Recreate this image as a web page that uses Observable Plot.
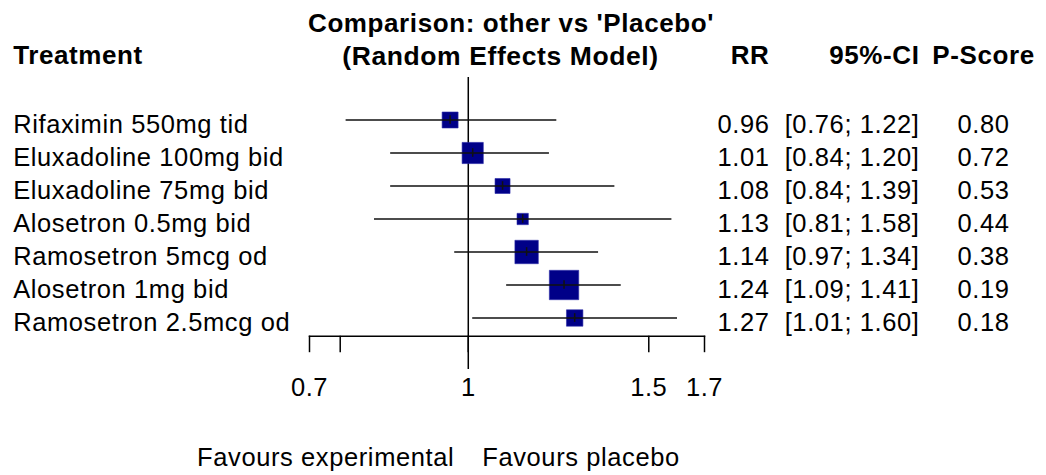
<!DOCTYPE html>
<html>
<head>
<meta charset="utf-8">
<script src="https://cdn.jsdelivr.net/npm/d3@7"></script>
<script src="https://cdn.jsdelivr.net/npm/@observablehq/plot@0.6"></script>
<style>
  html, body { margin: 0; padding: 0; background: #fff; }
</style>
</head>
<body>
<div id="chart"></div>
<script>
// ---- data ----
const treatments = [
  "Rifaximin 550mg tid",
  "Eluxadoline 100mg bid",
  "Eluxadoline 75mg bid",
  "Alosetron 0.5mg bid",
  "Ramosetron 5mcg od",
  "Alosetron 1mg bid",
  "Ramosetron 2.5mcg od"
];
const rr     = [0.96, 1.01, 1.08, 1.13, 1.14, 1.24, 1.27];
const lower  = [0.76, 0.84, 0.84, 0.81, 0.97, 1.09, 1.01];
const upper  = [1.22, 1.20, 1.39, 1.58, 1.34, 1.41, 1.60];
const pScore = [0.80, 0.72, 0.53, 0.44, 0.38, 0.19, 0.18];

const xTicks      = [0.7, 0.75, 1, 1.5, 1.7];
const xTickLabels = ["0.7", "", "1", "1.5", "1.7"];

const titleLines = ["Comparison: other vs 'Placebo'", "(Random Effects Model)"];
const headerTreatment = "Treatment";
const headerRR = "RR";
const headerCI = "95%-CI";
const headerP = "P-Score";
const favourLabels = ["Favours experimental", "Favours placebo"];

// ---- table built from the arrays ----
const rows = treatments.map((name, i) => ({
  name,
  rr: rr[i],
  lo: lower[i],
  hi: upper[i],
  p: pScore[i],
  // precision (1/SE) derived from the CI, used for box size
  prec: 3.92 / Math.log(upper[i] / lower[i]),
  rrText: rr[i].toFixed(2),
  ciText: `[${lower[i].toFixed(2)}; ${upper[i].toFixed(2)}]`,
  pText: pScore[i].toFixed(2)
}));

// ---- layout ----
const W = 1046, H = 475;
const mLeft = 309, mRight = W - 704, mTop = 77, mBottom = H - 335.7;
const rowTop = 101.6, rowBottom = 335.0;
const col = {name: 12.7, rr: 769, ci: 919, p: 983};
const dxL = (X) => X - mLeft;          // offset from left edge of the frame
const headBase = 63.5 - mTop;          // header baseline relative to frame top
const rowBase = 12.5;                  // baseline offset from row centre
const boxK = 1.93 / Math.sqrt(Math.PI);

const chart = Plot.plot({
  width: W,
  height: H,
  marginLeft: mLeft,
  marginRight: mRight,
  marginTop: mTop,
  marginBottom: mBottom,
  style: {
    fontFamily: "'Liberation Sans', Arial, Helvetica, sans-serif",
    fontSize: "25.5px",
    letterSpacing: "0.6px",
    color: "black",
    background: "white",
    overflow: "visible"
  },
  x: {type: "log", domain: [0.7, 1.7], label: null},
  y: {type: "band", domain: treatments, range: [rowTop, rowBottom], padding: 0, axis: null, label: null},
  r: {type: "identity"},
  marks: [
    // reference line at RR = 1
    Plot.ruleX([1], {stroke: "black", strokeWidth: 1.5, insetBottom: -33.3}),
    // boxes
    Plot.dot(rows, {x: "rr", y: "name", symbol: "square", r: d => boxK * d.prec, fill: "#000088", stroke: "#2a2aa8", strokeWidth: 0.6}),
    // confidence intervals
    Plot.ruleY(rows, {y: "name", x1: "lo", x2: "hi", stroke: "#111", strokeWidth: 1.5}),
    // point estimate tick
    Plot.tickX(rows, {x: "rr", y: "name", stroke: "#111", strokeWidth: 1.5, insetTop: 12.2, insetBottom: 12.2}),
    // x axis
    Plot.frame({anchor: "bottom", stroke: "black", strokeWidth: 1.5}),
    Plot.axisX({
      ticks: xTicks,
      tickFormat: d => xTickLabels[xTicks.indexOf(d)],
      tickSize: 16.5,
      tickPadding: 25,
      strokeWidth: 1.5,
      stroke: "black",
      fill: "black",
      fontSize: 25.5,
      label: null
    }),
    // row labels and columns
    Plot.text(rows, {y: "name", text: "name", frameAnchor: "left", dx: dxL(col.name), dy: rowBase, textAnchor: "start", lineAnchor: "bottom", fill: "black"}),
    Plot.text(rows, {y: "name", text: "rrText", frameAnchor: "left", dx: dxL(col.rr), dy: rowBase, textAnchor: "end", lineAnchor: "bottom", fill: "black"}),
    Plot.text(rows, {y: "name", text: "ciText", frameAnchor: "left", dx: dxL(col.ci), dy: rowBase, textAnchor: "end", lineAnchor: "bottom", fill: "black"}),
    Plot.text(rows, {y: "name", text: "pText", frameAnchor: "left", dx: dxL(col.p), dy: rowBase, textAnchor: "middle", lineAnchor: "bottom", fill: "black"}),
    // headers
    Plot.text([headerTreatment], {text: d => d, frameAnchor: "top-left", dx: dxL(col.name), dy: headBase, textAnchor: "start", lineAnchor: "bottom", fontWeight: "bold", fontSize: 26, fill: "black"}),
    Plot.text([headerRR], {text: d => d, frameAnchor: "top-left", dx: dxL(col.rr), dy: headBase, textAnchor: "end", lineAnchor: "bottom", fontWeight: "bold", fontSize: 26, fill: "black"}),
    Plot.text([headerCI], {text: d => d, frameAnchor: "top-left", dx: dxL(col.ci), dy: headBase, textAnchor: "end", lineAnchor: "bottom", fontWeight: "bold", fontSize: 26, fill: "black"}),
    Plot.text([headerP], {text: d => d, frameAnchor: "top-left", dx: dxL(col.p), dy: headBase, textAnchor: "middle", lineAnchor: "bottom", fontWeight: "bold", fontSize: 26, fill: "black"}),
    // title
    Plot.text([titleLines[0]], {text: d => d, frameAnchor: "top-left", dx: dxL(510.5), dy: 31.5 - mTop, textAnchor: "middle", lineAnchor: "bottom", fontWeight: "bold", fontSize: 26, fill: "black"}),
    Plot.text([titleLines[1]], {text: d => d, frameAnchor: "top-left", dx: dxL(500), dy: 64 - mTop, textAnchor: "middle", lineAnchor: "bottom", fontWeight: "bold", fontSize: 26.5, fill: "black"}),
    // favours labels
    Plot.text([favourLabels[0]], {x: () => 1, text: d => d, frameAnchor: "bottom", dx: -14, dy: 465 - 335.7, textAnchor: "end", lineAnchor: "bottom", fill: "black"}),
    Plot.text([favourLabels[1]], {x: () => 1, text: d => d, frameAnchor: "bottom", dx: 14, dy: 465 - 335.7, textAnchor: "start", lineAnchor: "bottom", fill: "black"})
  ]
});

document.getElementById("chart").appendChild(chart);
</script>
</body>
</html>
